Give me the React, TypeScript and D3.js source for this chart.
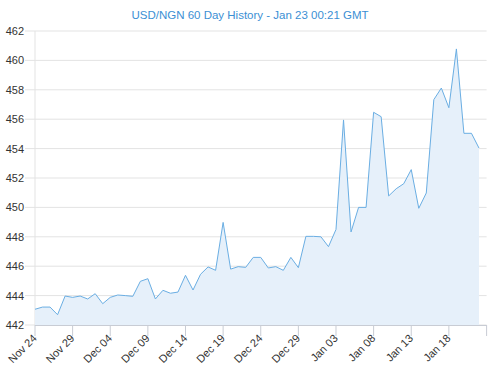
import React from "react";
import * as d3 from "d3";

const title = "USD/NGN 60 Day History - Jan 23 00:21 GMT";
const startDate = "2017-11-24";
const endDate = "2018-01-23T00:21";
const values: number[] = [
  443.07, 443.22, 443.22, 442.7, 443.97, 443.88, 443.97, 443.77, 444.13, 443.45,
  443.88, 444.04, 444.0, 443.95, 444.97, 445.15, 443.77, 444.36, 444.16, 444.24,
  445.38, 444.38, 445.45, 445.95, 445.72, 448.98, 445.8, 445.97, 445.92, 446.6,
  446.6, 445.88, 445.97, 445.72, 446.6, 445.9, 448.03, 448.03, 448.0, 447.33,
  448.5, 455.95, 448.33, 450.0, 450.0, 456.47, 456.17, 450.78, 451.27, 451.61,
  452.57, 449.94, 450.98, 457.33, 458.12, 456.78, 460.78, 455.04, 455.04, 454.04,
];
const yTicks = [442, 444, 446, 448, 450, 452, 454, 456, 458, 460, 462];
const xTickLabels = ["Nov 24", "Nov 29", "Dec 04", "Dec 09", "Dec 14", "Dec 19", "Dec 24", "Dec 29", "Jan 03", "Jan 08", "Jan 13", "Jan 18"];

const W = 495, H = 376;
const L = 35, R = 486.6, T = 31, B = 325;

export default function App() {
  const parse = d3.timeParse("%Y-%m-%d");
  const start = parse(startDate) as Date;
  const end = d3.timeParse("%Y-%m-%dT%H:%M")(endDate) as Date;
  const x = d3.scaleTime().domain([start, end]).range([L, R]);
  const y = d3.scaleLinear().domain([442, 462]).range([B, T]);
  const data = values.map((v, i) => ({ d: d3.timeDay.offset(start, i), v }));
  const line = d3.line<{ d: Date; v: number }>().x((p) => x(p.d)).y((p) => y(p.v));
  const area = d3.area<{ d: Date; v: number }>().x((p) => x(p.d)).y0(B).y1((p) => y(p.v));
  const xTicks = xTickLabels.map((lab, i) => ({ lab, d: d3.timeDay.offset(start, i * 5) }));
  const font = "'Liberation Sans', Arial, sans-serif";
  return (
    <svg width={W} height={H} style={{ position: "absolute", left: 0, top: 0 }} fontFamily={font}>
      <rect width={W} height={H} fill="#fff" />
      <text x={250} y={19} textAnchor="middle" fontSize={11.5} fill="#3b8fd4">{title}</text>
      {yTicks.map((t) => (
        <g key={t}>
          <line x1={25} x2={R} y1={y(t)} y2={y(t)} stroke="#e3e3e3" strokeWidth={1} />
          <text x={24} y={y(t) + 4} textAnchor="end" fontSize={11} fill="#333">{t}</text>
        </g>
      ))}
      <line x1={L} x2={L} y1={T} y2={B} stroke="#e3e3e3" />
      <path d={area(data) as string} fill="#e6f0fa" />
      <path d={line(data) as string} fill="none" stroke="#6aaee3" strokeWidth={1} />
      <line x1={L} x2={R} y1={B + 0.5} y2={B + 0.5} stroke="#c8ccd4" />
      {xTicks.map((t) => (
        <g key={t.lab}>
          <line x1={x(t.d)} x2={x(t.d)} y1={B} y2={B + 11} stroke="#c8ccd4" />
          <text transform={`translate(${x(t.d) + 2.5},${B + 14}) rotate(-45)`} textAnchor="end" fontSize={11} fill="#333">{t.lab}</text>
        </g>
      ))}
      <line x1={R} x2={R} y1={B} y2={B + 11} stroke="#c8ccd4" />
    </svg>
  );
}
